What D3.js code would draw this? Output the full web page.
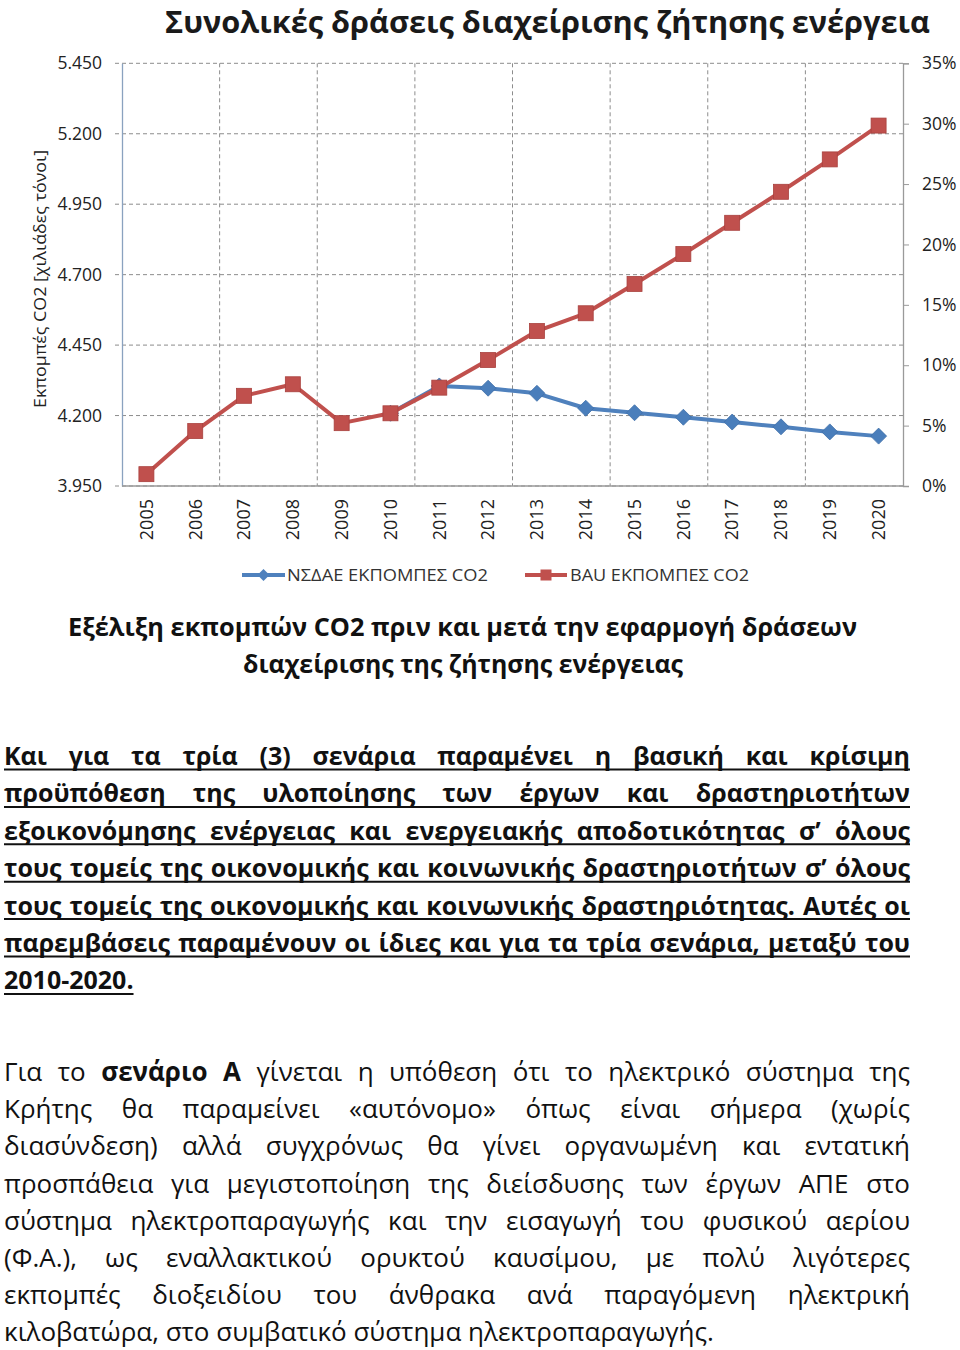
<!DOCTYPE html>
<html>
<head>
<meta charset="utf-8">
<script src="https://cdn.jsdelivr.net/npm/d3@7"></script>
<style>
  body { margin: 0; background: #fff; }
  svg { display: block; }
</style>
</head>
<body>
<div id="chart"></div>
<script>
// data
const years = ['2005','2006','2007','2008','2009','2010','2011','2012','2013','2014','2015','2016','2017','2018','2019','2020']
const bauValues = [3992, 4145, 4270, 4311, 4173, 4208, 4299, 4397, 4500, 4563, 4667, 4773, 4884, 4994, 5109, 5229]
const nsdaeValues = [null, null, null, null, null, 4208, 4305, 4297, 4279, 4226, 4210, 4194, 4177, 4160, 4142, 4127]
const leftTicks = [3950, 4200, 4450, 4700, 4950, 5200, 5450]
const rightTicks = [0, 0.05, 0.10, 0.15, 0.20, 0.25, 0.30, 0.35]
const seriesNames = ['ΝΣΔΑΕ ΕΚΠΟΜΠΕΣ CO2', 'BAU ΕΚΠΟΜΠΕΣ CO2']

const chartTitle = 'Συνολικές δράσεις διαχείρισης ζήτησης ενέργεια'
const yTitle = 'Εκπομπές CO2 [χιλιάδες τόνοι]'
const caption = ['Εξέλιξη εκπομπών CO2 πριν και μετά την εφαρμογή δράσεων', 'διαχείρισης της ζήτησης ενέργειας']

const para1 = [
    'Και για τα τρία (3) σενάρια παραμένει η βασική και κρίσιμη',
    'προϋπόθεση της υλοποίησης των έργων και δραστηριοτήτων',
    'εξοικονόμησης ενέργειας και ενεργειακής αποδοτικότητας σ’ όλους',
    'τους τομείς της οικονομικής και κοινωνικής δραστηριοτήτων σ’ όλους',
    'τους τομείς της οικονομικής και κοινωνικής δραστηριότητας. Αυτές οι',
    'παρεμβάσεις παραμένουν οι ίδιες και για τα τρία σενάρια, μεταξύ του',
    '2010-2020.'
]
// words starting with * are bold
const para2 = [
    'Για το *σενάριο *Α γίνεται η υπόθεση ότι το ηλεκτρικό σύστημα της',
    'Κρήτης θα παραμείνει «αυτόνομο» όπως είναι σήμερα (χωρίς',
    'διασύνδεση) αλλά συγχρόνως θα γίνει οργανωμένη και εντατική',
    'προσπάθεια για μεγιστοποίηση της διείσδυσης των έργων ΑΠΕ στο',
    'σύστημα ηλεκτροπαραγωγής και την εισαγωγή του φυσικού αερίου',
    '(Φ.Α.), ως εναλλακτικού ορυκτού καυσίμου, με πολύ λιγότερες',
    'εκπομπές διοξειδίου του άνθρακα ανά παραγόμενη ηλεκτρική',
    'κιλοβατώρα, στο συμβατικό σύστημα ηλεκτροπαραγωγής.'
]

const width = 960
const height = 1350
const FONT = '"Open Sans", "Noto Sans", sans-serif'

const red = '#C0504D'
const blue = '#4F81BD'
const gridColor = '#8c8c8c'

const svg = d3.create('svg')
    .attr('width', width)
    .attr('height', height)
    .attr('viewBox', [0, 0, width, height])
    .style('font-family', FONT)

document.getElementById('chart').appendChild(svg.node())

/* helper: measure text width */
const measurer = svg.append('text').attr('x', -1000).attr('y', -1000)
const measure = (str, size, weight) => {
    measurer.attr('font-size', size).attr('font-weight', weight).text(str)
    return measurer.node().getComputedTextLength()
}
const fitWidth = (sel, target) => {
    const w = sel.node().getComputedTextLength()
    if (w > 0) sel.attr('textLength', target).attr('lengthAdjust', 'spacingAndGlyphs')
}

/**
 *      Scales
 */
const plotLeft = 122, plotRight = 903, plotTop = 63.3, plotBottom = 486

const x = d3.scaleBand()
    .domain(years)
    .range([plotLeft, plotRight])
    .padding(0)
const cx = d => x(d) + x.bandwidth() / 2

const yLeft = d3.scaleLinear()
    .domain([3950, 5450])
    .range([plotBottom, plotTop])

const yRight = d3.scaleLinear()
    .domain([0, 0.35])
    .range([plotBottom, plotTop])

const greek = d3.formatLocale({ decimal: ',', thousands: '.', grouping: [3], currency: ['', '€'] })

/* title */
const title = svg.append('text')
    .attr('x', 165)
    .attr('y', 33)
    .attr('font-size', 30)
    .attr('font-weight', 'bold')
    .attr('fill', '#1a1a1a')
    .text(chartTitle)
fitWidth(title, 765)

/* gridlines */
const grid = svg.append('g')
grid.selectAll('.hgrid')
    .data(leftTicks)
    .enter()
    .append('line')
    .attr('class', 'hgrid')
    .attr('x1', plotLeft - 7)
    .attr('x2', plotRight)
    .attr('y1', d => yLeft(d))
    .attr('y2', d => yLeft(d))
    .attr('stroke', gridColor)
    .attr('stroke-dasharray', '4,3')

grid.selectAll('.vgrid')
    .data(years.filter((d, i) => i > 0 && i % 2 === 0))
    .enter()
    .append('line')
    .attr('class', 'vgrid')
    .attr('x1', d => x(d))
    .attr('x2', d => x(d))
    .attr('y1', plotTop)
    .attr('y2', plotBottom)
    .attr('stroke', gridColor)
    .attr('stroke-dasharray', '4,3')

/* axes */
const leftAxis = svg.append('g')
    .attr('transform', `translate(${plotLeft},0)`)
    .call(d3.axisLeft(yLeft).tickValues(leftTicks).tickFormat(greek.format(',d')).tickSize(0).tickPadding(20))
leftAxis.select('.domain').attr('stroke', '#8aa2bf').attr('stroke-width', 1.3)
leftAxis.selectAll('text').attr('font-size', 17.5).attr('fill', '#222').style('font-family', FONT)

const rightAxis = svg.append('g')
    .attr('transform', `translate(${plotRight},0)`)
    .call(d3.axisRight(yRight).tickValues(rightTicks).tickFormat(d3.format('.0%')).tickSize(6).tickPadding(13))
rightAxis.select('.domain').attr('stroke', '#9a9a9a').attr('stroke-width', 1.3)
rightAxis.selectAll('.tick line').attr('stroke', '#9a9a9a')
rightAxis.selectAll('text').attr('font-size', 17.5).attr('fill', '#222').style('font-family', FONT)

svg.append('line')
    .attr('x1', plotLeft)
    .attr('x2', plotRight)
    .attr('y1', plotBottom)
    .attr('y2', plotBottom)
    .attr('stroke', '#9a9a9a')
    .attr('stroke-width', 1.3)

/* year labels */
svg.append('g').selectAll('text')
    .data(years)
    .enter()
    .append('text')
    .attr('transform', d => `translate(${cx(d)},499) rotate(-90)`)
    .attr('text-anchor', 'end')
    .attr('dy', '0.35em')
    .attr('font-size', 18)
    .attr('fill', '#222')
    .text(d => d)

/* y axis title */
const yt = svg.append('text')
    .attr('transform', 'translate(40,279) rotate(-90)')
    .attr('text-anchor', 'middle')
    .attr('dy', '0.35em')
    .attr('font-size', 17)
    .attr('fill', '#222')
    .text(yTitle)
fitWidth(yt, 258)

/**
 *      Lines and markers
 */
const lineGen = d3.line()
    .defined(d => d.v !== null)
    .x(d => cx(d.year))
    .y(d => yLeft(d.v))

const nsdae = years.map((year, i) => ({ year, v: nsdaeValues[i] }))
const bau = years.map((year, i) => ({ year, v: bauValues[i] }))

const diamond = s => `M0,${-s}L${s},0L0,${s}L${-s},0Z`

svg.append('path')
    .datum(nsdae)
    .attr('fill', 'none')
    .attr('stroke', blue)
    .attr('stroke-width', 4)
    .attr('stroke-linejoin', 'round')
    .attr('d', lineGen)
svg.append('g').selectAll('path')
    .data(nsdae.filter(d => d.v !== null))
    .enter()
    .append('path')
    .attr('transform', d => `translate(${cx(d.year)},${yLeft(d.v)})`)
    .attr('d', diamond(8))
    .attr('fill', '#4A7EBB')
    .attr('stroke', '#3f6fa8')
    .attr('stroke-width', 0.8)

svg.append('path')
    .datum(bau)
    .attr('fill', 'none')
    .attr('stroke', red)
    .attr('stroke-width', 4)
    .attr('stroke-linejoin', 'round')
    .attr('d', lineGen)
svg.append('g').selectAll('rect')
    .data(bau)
    .enter()
    .append('rect')
    .attr('x', d => cx(d.year) - 7.5)
    .attr('y', d => yLeft(d.v) - 7.5)
    .attr('width', 15)
    .attr('height', 15)
    .attr('fill', red)
    .attr('stroke', '#a9413e')
    .attr('stroke-width', 0.8)

/* legend */
const legend = svg.append('g')
const legendItems = [
    { name: seriesNames[0], color: blue, x0: 242, x1: 285, tx: 287, tw: 201, marker: 'diamond' },
    { name: seriesNames[1], color: red, x0: 525, x1: 567, tx: 570, tw: 179, marker: 'square' }
]
legendItems.forEach(item => {
    legend.append('line')
        .attr('x1', item.x0).attr('x2', item.x1)
        .attr('y1', 575).attr('y2', 575)
        .attr('stroke', item.color)
        .attr('stroke-width', 4)
    const mx = (item.x0 + item.x1) / 2
    if (item.marker === 'diamond') {
        legend.append('path')
            .attr('transform', `translate(${mx},575)`)
            .attr('d', diamond(6))
            .attr('fill', item.color)
    } else {
        legend.append('rect')
            .attr('x', mx - 5.5).attr('y', 569.5)
            .attr('width', 11).attr('height', 11)
            .attr('fill', item.color)
    }
    const t = legend.append('text')
        .attr('x', item.tx)
        .attr('y', 575)
        .attr('dy', '0.35em')
        .attr('font-size', 17)
        .attr('fill', '#333')
        .text(item.name)
    fitWidth(t, item.tw)
})

/* caption */
const captionSpans = [[68, 636, 789], [243, 672.7, 440]]
caption.forEach((line, i) => {
    const t = svg.append('text')
        .attr('x', captionSpans[i][0])
        .attr('y', captionSpans[i][1])
        .attr('font-size', 25)
        .attr('font-weight', 'bold')
        .attr('fill', '#111')
        .text(line)
    fitWidth(t, captionSpans[i][2])
})

/**
 *      Justified paragraphs
 */
const drawParagraph = (lines, opts) => {
    const { x0, x1, y0, lh, size, weight, underline } = opts
    const W = x1 - x0
    const parsed = lines.map(line => line.split(' ').map(w => {
        const bold = w.startsWith('*')
        const text = bold ? w.slice(1) : w
        const wt = bold ? 'bold' : weight
        return { text, weight: wt, w: measure(text, size, wt) }
    }))
    const space = measure('a a', size, weight) - measure('aa', size, weight)
    const natural = parsed.map(ws => d3.sum(ws, d => d.w) + (ws.length - 1) * space)
    const sx = Math.min(1, W / d3.max(natural.slice(0, -1)))
    const Wl = W / sx

    const g = svg.append('g')
        .attr('transform', `translate(${x0},0) scale(${sx},1)`)

    parsed.forEach((ws, i) => {
        const last = i === parsed.length - 1
        const sumW = d3.sum(ws, d => d.w)
        const gap = last ? space : (Wl - sumW) / (ws.length - 1)
        const y = y0 + i * lh
        let cur = 0
        const t = g.append('text')
            .attr('y', y)
            .attr('font-size', size)
            .attr('fill', '#111')
        ws.forEach(word => {
            t.append('tspan')
                .attr('x', cur)
                .attr('font-weight', word.weight)
                .text(word.text)
            cur += word.w + gap
        })
        if (underline) {
            g.append('line')
                .attr('x1', 0)
                .attr('x2', last ? cur - gap : Wl)
                .attr('y1', y + 4.5)
                .attr('y2', y + 4.5)
                .attr('stroke', '#111')
                .attr('stroke-width', 2)
        }
    })
}

drawParagraph(para1, { x0: 4, x1: 910, y0: 765, lh: 37.4, size: 25, weight: 'bold', underline: true })
drawParagraph(para2, { x0: 4, x1: 910, y0: 1081, lh: 37.2, size: 26, weight: 'normal', underline: false })

measurer.remove()
</script>
</body>
</html>
